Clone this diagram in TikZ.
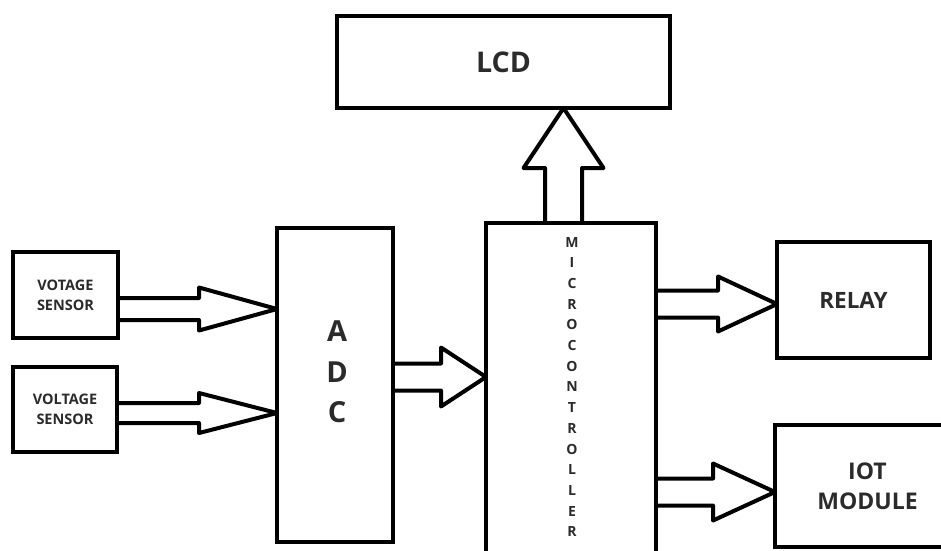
\documentclass[tikz,border=0pt]{standalone}
\usepackage{fontspec}
\setmainfont{Open Sans}
\usetikzlibrary{calc}
\definecolor{txt}{HTML}{2B2B2B}
\newcommand\hblk[5]{%
  \draw[blk] let \p1=(#1), \p2=(#2) in
    (\x1,{\y1+#4}) -- ({\x2-#3},{\y1+#4}) -- ({\x2-#3},{\y1+#5}) -- (\x2,\y1)
    -- ({\x2-#3},{\y1-#5}) -- ({\x2-#3},{\y1-#4}) -- (\x1,{\y1-#4});}
\begin{document}
\begin{tikzpicture}[x=1pt,y=-1pt,
  box/.style={draw=black, line width=4.5pt, inner sep=0pt, outer sep=0pt, text=txt, align=center},
  lbl/.style={text=txt, inner sep=0pt, align=center},
  blk/.style={draw=black, line width=4pt, line join=round}]
\clip (0,0) rectangle (941,550);
% boxes
\node[box, minimum width=333pt, minimum height=92pt, font=\bfseries\fontsize{28.5}{30}\selectfont] (lcd) at (503.5,62) {LCD};
\node[box, minimum width=105pt, minimum height=86pt, font=\bfseries\fontsize{14.5}{20}\selectfont] (s1) at (65.5,295) {VOTAGE\\SENSOR};
\node[box, minimum width=104pt, minimum height=85pt, font=\bfseries\fontsize{14.5}{20}\selectfont] (s2) at (65,409.5) {VOLTAGE\\SENSOR};
\node[box, minimum width=116pt, minimum height=314pt] (adc) at (335,385) {};
\node[lbl, font=\bfseries\fontsize{29}{40.5}\selectfont] (adct) at (337,372) {A\\D\\C};
\node[box, minimum width=170pt, minimum height=347pt] (mc) at (571,396.5) {};
\foreach[count=\i] \l in {M,I,C,R,O,C,O,N,T,R,O,L,L,E,R}
  \node[lbl, font=\bfseries\fontsize{14}{15}\selectfont] (mcl\i) at (572,{242+(\i-1)*20.7}) {\l};
\node[box, minimum width=153pt, minimum height=116pt, font=\bfseries\fontsize{22.5}{25}\selectfont] (relay) at (853.5,300) {RELAY};
\node[box, minimum width=185pt, minimum height=122pt, font=\bfseries\fontsize{23}{30}\selectfont] (iot) at (867.5,486) {IOT\\MODULE};
% block arrows
\hblk{$(s1.east)+(0,14)$}{adc.west}{78pt}{11pt}{21.5pt}
\hblk{$(s2.east)+(0,3.5)$}{adc.west}{78pt}{10pt}{20pt}
\hblk{$(adc.east)+(0,-8)$}{mc.west}{45pt}{13.5pt}{29.5pt}
\hblk{$(mc.east |- relay.west)+(0,4)$}{relay.west}{59pt}{13.5pt}{27.5pt}
\hblk{$(mc.east |- iot.west)+(0,6)$}{iot.west}{62pt}{13.5pt}{28.5pt}
\draw[blk] let \p1=($(mc.north)+(-7.5,0)$), \p2=(lcd.south) in
  ({\x1-18.5pt},\y1) -- ({\x1-18.5pt},{\y2-60pt}) -- ({\x1-40pt},{\y2-60pt}) -- (\x1,\y2)
  -- ({\x1+40pt},{\y2-60pt}) -- ({\x1+18.5pt},{\y2-60pt}) -- ({\x1+18.5pt},\y1);
\end{tikzpicture}
\end{document}
